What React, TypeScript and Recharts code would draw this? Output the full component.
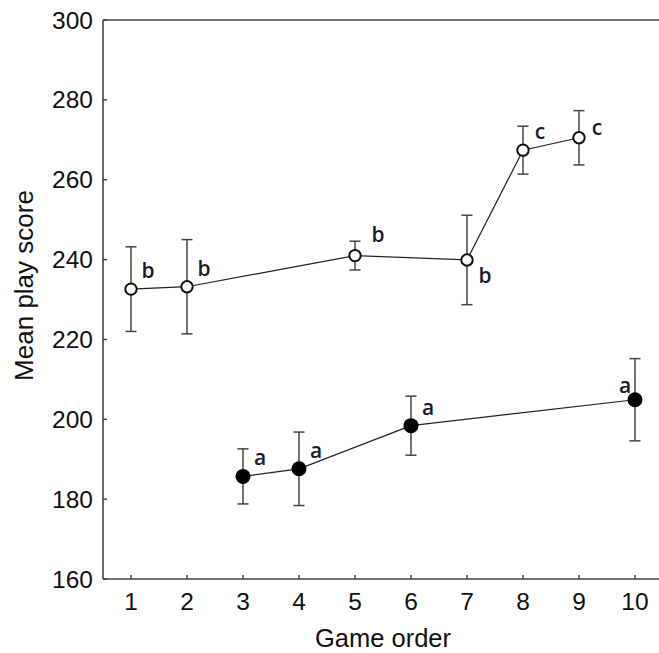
import React from "react";
import {
  LineChart,
  Line,
  XAxis,
  YAxis,
  ErrorBar,
  LabelList,
} from "recharts";

// game order on the x axis
const openOrder = [1, 2, 5, 7, 8, 9];
const openMean = [232.6, 233.2, 241.0, 239.9, 267.4, 270.5];
const openErr = [10.6, 11.8, 3.6, 11.2, 6.0, 6.8];
const openLetters = ["b", "b", "b", "b", "c", "c"];

const filledOrder = [3, 4, 6, 10];
const filledMean = [185.7, 187.6, 198.4, 204.9];
const filledErr = [6.9, 9.2, 7.4, 10.3];
const filledLetters = ["a", "a", "a", "a"];

const xTicks = [1, 2, 3, 4, 5, 6, 7, 8, 9, 10];
const yTicks = [160, 180, 200, 220, 240, 260, 280, 300];

const openData = openOrder.map((order, i) => ({
  order,
  score: openMean[i],
  err: openErr[i],
  letter: openLetters[i],
}));

const filledData = filledOrder.map((order, i) => ({
  order,
  score: filledMean[i],
  err: filledErr[i],
  letter: filledLetters[i],
}));

const FONT = '"Liberation Sans", Arial, sans-serif';
const AXIS = "#444";

// where the letter sits relative to its point (default is up-right)
const letterShift: Record<number, [number, number]> = {
  5: [23, -22],
  7: [18, 15],
  9: [18, -11],
  10: [-10, -15],
};

const YTick = (props: any) => {
  const { x, y, payload } = props;
  return (
    <g>
      <line x1={x + 10} x2={x + 14} y1={y} y2={y} stroke={AXIS} strokeWidth={1.5} />
      <text x={x} y={y} dy="0.35em" textAnchor="end" fontSize={24.5} fontFamily={FONT} fill="#111">
        {payload.value}
      </text>
    </g>
  );
};

const XTick = (props: any) => {
  const { x, y, payload } = props;
  return (
    <g>
      <line x1={x} x2={x} y1={y} y2={y - 4} stroke={AXIS} strokeWidth={1.5} />
      <text x={x} y={y + 31} textAnchor="middle" fontSize={24.5} fontFamily={FONT} fill="#111">
        {payload.value}
      </text>
    </g>
  );
};

const TopTick = (props: any) => {
  const { x, y } = props;
  return <line x1={x} x2={x} y1={y} y2={y + 4} stroke={AXIS} strokeWidth={1.5} />;
};

const makeLetter = (orders: number[]) => (props: any) => {
  const { x, y, value, index } = props;
  const [dx, dy] = letterShift[orders[index]] || [17, -19];
  return (
    <text
      x={x + dx}
      y={y + dy}
      textAnchor="middle"
      dominantBaseline="central"
      fontSize={21}
      fontWeight={600}
      fontFamily='"Open Sans", sans-serif'
      fill="#1b1b2f"
    >
      {value}
    </text>
  );
};

const YTitle = (props: any) => {
  const { viewBox } = props;
  const cx = 33;
  const cy = viewBox.y + viewBox.height / 2 - 14;
  return (
    <text
      x={cx}
      y={cy}
      transform={`rotate(-90 ${cx} ${cy})`}
      textAnchor="middle"
      fontSize={26}
      fontFamily={FONT}
      fill="#111"
    >
      Mean play score
    </text>
  );
};

export default function App() {
  return (
    <div
      style={{
        position: "absolute",
        left: 0,
        top: 0,
        width: 659,
        height: 653,
        overflow: "hidden",
        background: "#fff",
      }}
    >
      <LineChart
        width={680}
        height={653}
        margin={{ top: 10, right: 17, bottom: 0, left: 0 }}
      >
        <XAxis
          dataKey="order"
          type="number"
          domain={[0.5, 10.5]}
          ticks={xTicks}
          allowDataOverflow
          height={74}
          tickSize={0}
          tickMargin={0}
          tickLine={false}
          tick={<XTick />}
          axisLine={{ stroke: AXIS, strokeWidth: 1.6 }}
          label={{
            value: "Game order",
            position: "insideBottom",
            offset: 6,
            fontSize: 25.5,
            fontFamily: FONT,
            fill: "#111",
          }}
        />
        <XAxis
          xAxisId="top"
          orientation="top"
          type="number"
          domain={[0.5, 10.5]}
          ticks={xTicks}
          allowDataOverflow
          height={10}
          tickSize={0}
          tickMargin={0}
          tickLine={false}
          tick={<TopTick />}
          axisLine={{ stroke: AXIS, strokeWidth: 1.6 }}
        />
        <YAxis
          type="number"
          domain={[160, 300]}
          ticks={yTicks}
          allowDataOverflow
          width={103}
          tickSize={0}
          tickMargin={10}
          tickLine={false}
          tick={<YTick />}
          axisLine={{ stroke: AXIS, strokeWidth: 1.6 }}
          label={{ value: "Mean play score", content: <YTitle /> }}
        />
        <Line
          data={openData}
          dataKey="score"
          stroke="#222"
          strokeWidth={1.2}
          isAnimationActive={false}
          dot={{ r: 5.7, fill: "#fff", stroke: "#111", strokeWidth: 2 }}
          activeDot={false}
        >
          <ErrorBar
            dataKey="err"
            direction="y"
            width={5.5}
            stroke="#444"
            strokeWidth={1.5}
            isAnimationActive={false}
          />
          <LabelList dataKey="letter" content={makeLetter(openOrder)} />
        </Line>
        <Line
          data={filledData}
          dataKey="score"
          stroke="#222"
          strokeWidth={1.2}
          isAnimationActive={false}
          dot={{ r: 7.5, fill: "#000", stroke: "#000", strokeWidth: 0 }}
          activeDot={false}
        >
          <ErrorBar
            dataKey="err"
            direction="y"
            width={5.5}
            stroke="#444"
            strokeWidth={1.5}
            isAnimationActive={false}
          />
          <LabelList dataKey="letter" content={makeLetter(filledOrder)} />
        </Line>
      </LineChart>
    </div>
  );
}
